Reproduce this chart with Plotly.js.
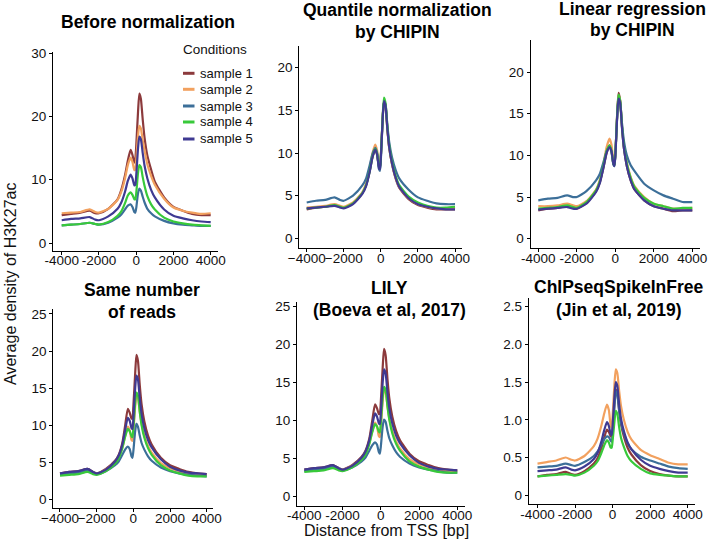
<!DOCTYPE html>
<html><head><meta charset="utf-8">
<script src="https://cdn.plot.ly/plotly-3.0.1.min.js"></script>
<style>html,body{margin:0;padding:0;background:#fff}#chart{width:712px;height:550px}</style>
</head><body><div id="chart"></div>
<script>
// ---- data ----
const positions = [-4000,-3500,-3000,-2500,-2200,-2000,-1500,-1000,-800,-600,-450,-300,-200,-100,-50,0,100,170,250,350,450,600,800,1000,1500,2000,2500,3000,3500,4000];
const sampleNames = ["sample 1","sample 2","sample 3","sample 4","sample 5"];
const sampleColors = ["#8c3a3c","#f2a15f","#3c6f99","#38c93a","#3f3a92"];
const panelTitles = [["Before normalization"],["Quantile normalization","by CHIPIN"],["Linear regression","by CHIPIN"],["Same number","of reads"],["LILY","(Boeva et al, 2017)"],["ChIPseqSpikeInFree","(Jin et al, 2019)"]];
const xTickVals = [-4000,-2000,0,2000,4000];
const xTickHyphen = ["-4000","-2000","0","2000","4000"];
const xTickMinus = ["\u22124000","\u22122000","0","2000","4000"];
const yTicksBefore = [0,10,20,30];
const yTicksChipin = [0,5,10,15,20];
const yTicksReads = [0,5,10,15,20,25];
const yTicksSpike = [0,0.5,1,1.5,2,2.5];
const yTicksSpikeText = ["0","0.5","1.0","1.5","2.0","2.5"];
const xAxisTitle = "Distance from TSS [bp]";
const yAxisTitle = "Average density of H3K27ac";
const legendTitle = "Conditions";

// Before normalization
const before_s1 = [4.4,4.6,4.8,5.1,4.7,4.7,5.4,6.9,8.4,10.7,13.0,14.7,13.9,12.7,13.2,15.2,20.8,23.6,22.8,19.5,16.6,13.8,11.6,9.7,7.2,5.7,5.1,4.6,4.4,4.4];
const before_s2 = [4.7,4.8,4.9,5.3,4.9,4.8,5.4,6.8,8.1,10.2,12.3,13.5,12.8,11.5,11.6,13.0,17.0,18.5,18.1,16.2,14.6,12.4,10.6,9.2,7.0,5.6,5.1,4.8,4.6,4.7];
const before_s3 = [2.8,2.9,3.0,3.2,3.0,2.9,3.2,4.0,4.5,5.3,5.9,6.1,5.7,4.9,4.8,5.5,7.9,8.6,8.3,7.3,6.4,5.4,4.7,4.2,3.5,3.1,2.9,2.8,2.7,2.7];
const before_s4 = [2.8,2.9,3.0,3.2,3.0,2.9,3.3,4.3,5.0,6.3,7.5,8.0,7.6,6.9,6.9,7.8,11.1,12.3,12.0,10.4,9.0,7.4,6.1,5.3,4.0,3.4,3.1,2.9,2.8,2.7];
const before_s5 = [3.6,3.8,3.9,4.1,3.7,3.6,4.2,5.4,6.4,8.1,9.8,10.8,10.2,9.1,9.2,10.6,15.0,16.8,16.4,14.2,12.2,10.2,8.4,7.2,5.3,4.3,3.9,3.6,3.4,3.3];
// Quantile normalization by CHIPIN
const quantile_s1 = [3.4,3.6,3.7,3.9,3.7,3.6,4.1,5.3,6.2,7.9,9.5,10.5,9.8,8.4,8.4,9.6,14.2,16.1,15.6,12.8,10.6,8.7,7.0,5.9,4.6,3.9,3.6,3.4,3.4,3.4];
const quantile_s2 = [3.6,3.7,3.8,4.0,3.8,3.7,4.2,5.4,6.4,8.2,10.0,11.0,10.3,8.6,8.5,9.7,14.2,16.1,15.6,12.9,10.7,8.8,7.1,6.0,4.7,4.0,3.7,3.5,3.5,3.6];
const quantile_s3 = [4.2,4.4,4.5,4.8,4.5,4.4,5.0,6.2,7.0,8.6,9.9,10.6,10.0,8.1,7.9,9.2,14.0,16.0,15.7,13.3,11.3,9.5,8.0,7.0,5.7,4.8,4.4,4.1,4.0,4.0];
const quantile_s4 = [3.5,3.6,3.7,3.9,3.7,3.6,4.1,5.3,6.2,7.9,9.6,10.5,9.9,8.4,8.3,9.6,14.4,16.5,15.9,13.1,10.9,9.0,7.3,6.2,4.9,4.2,3.8,3.6,3.6,3.7];
const quantile_s5 = [3.5,3.6,3.7,3.8,3.6,3.5,4.0,5.2,6.1,7.8,9.5,10.4,9.8,8.2,8.1,9.4,14.1,16.1,15.6,12.9,10.7,8.8,7.1,6.0,4.7,4.0,3.7,3.5,3.4,3.4];
// Linear regression by CHIPIN
const linear_s1 = [3.4,3.6,3.7,3.9,3.7,3.6,4.3,5.7,6.8,8.7,10.3,11.2,10.6,9.0,8.8,10.0,15.0,17.5,16.6,13.3,10.8,8.7,7.0,5.9,4.6,3.9,3.6,3.3,3.4,3.4];
const linear_s2 = [3.9,3.9,4.0,4.2,4.0,3.9,4.5,5.9,7.1,9.2,11.0,12.0,11.3,9.3,8.9,10.1,14.9,17.2,16.6,13.5,11.1,9.1,7.4,6.3,5.0,4.2,3.9,3.6,3.6,3.7];
const linear_s3 = [4.6,4.8,4.9,5.2,5.0,5.0,5.7,7.0,7.8,9.3,10.5,11.1,10.4,8.9,8.7,10.0,14.8,17.0,16.5,13.8,11.7,10.0,8.8,8.1,6.6,5.8,5.2,4.8,4.4,4.4];
const linear_s4 = [3.6,3.7,3.8,4.0,3.8,3.7,4.4,5.8,6.9,8.9,10.5,11.2,10.6,9.0,8.8,10.0,15.0,17.3,16.6,13.4,11.0,9.0,7.3,6.2,4.9,4.2,3.9,3.6,3.7,3.7];
const linear_s5 = [3.5,3.6,3.7,3.8,3.6,3.6,4.2,5.6,6.7,8.7,10.3,11.0,10.5,9.0,8.7,9.8,14.7,16.8,16.3,13.2,10.8,8.7,7.0,5.9,4.6,3.9,3.6,3.4,3.4,3.4];
// Same number of reads
const reads_s1 = [3.5,3.7,3.8,4.1,3.7,3.5,4.1,5.2,6.0,7.6,9.9,12.2,11.7,10.9,10.9,12.5,17.0,19.5,18.7,15.4,12.8,10.5,8.6,7.4,5.6,4.6,4.1,3.7,3.5,3.4];
const reads_s2 = [3.5,3.6,3.7,4.0,3.6,3.5,4.0,5.0,5.7,7.0,8.5,9.8,9.3,8.0,7.9,9.0,12.5,14.0,13.7,11.8,10.2,8.6,7.2,6.3,4.9,4.2,3.8,3.5,3.3,3.3];
const reads_s3 = [3.4,3.5,3.6,3.9,3.5,3.4,3.8,4.6,5.1,6.0,6.7,7.1,6.8,5.8,5.6,6.5,9.2,10.2,9.8,8.6,7.6,6.7,5.8,5.2,4.3,3.8,3.5,3.3,3.2,3.1];
const reads_s4 = [3.2,3.3,3.4,3.7,3.4,3.3,3.8,4.8,5.5,6.9,8.4,9.5,9.2,8.5,8.4,9.6,13.0,14.4,14.0,11.8,10.0,8.3,6.9,6.0,4.6,3.9,3.5,3.2,3.1,3.1];
const reads_s5 = [3.5,3.7,3.8,4.1,3.7,3.5,4.0,5.1,5.9,7.4,9.3,11.0,10.6,9.6,9.5,10.9,15.0,16.7,16.2,13.6,11.5,9.6,8.0,7.0,5.4,4.4,3.9,3.6,3.5,3.4];
// LILY
const lily_s1 = [3.5,3.7,3.8,4.1,3.7,3.5,4.1,5.2,6.0,7.6,9.9,12.1,11.6,10.8,10.9,12.4,17.0,19.4,18.6,15.4,12.8,10.5,8.6,7.4,5.6,4.6,4.1,3.7,3.5,3.4];
const lily_s2 = [3.4,3.6,3.7,4.0,3.6,3.5,4.0,5.0,5.7,7.0,8.5,9.7,9.2,7.9,7.8,9.0,12.5,14.0,13.7,11.8,10.2,8.6,7.2,6.3,4.9,4.2,3.8,3.5,3.3,3.3];
const lily_s3 = [3.3,3.5,3.6,3.9,3.5,3.4,3.8,4.6,5.1,6.0,6.7,7.1,6.8,5.8,5.6,6.5,9.2,10.1,9.8,8.6,7.6,6.7,5.8,5.2,4.3,3.8,3.5,3.3,3.1,3.1];
const lily_s4 = [3.2,3.3,3.4,3.7,3.4,3.3,3.8,4.8,5.5,6.9,8.4,9.5,9.2,8.5,8.4,9.6,13.0,14.4,14.0,11.8,10.0,8.3,6.9,6.0,4.6,3.9,3.5,3.2,3.1,3.1];
const lily_s5 = [3.5,3.7,3.8,4.1,3.7,3.5,4.0,5.1,5.9,7.4,9.3,10.9,10.5,9.6,9.5,10.9,15.0,16.7,16.2,13.6,11.5,9.6,8.0,7.0,5.4,4.4,3.9,3.6,3.5,3.4];
// ChIPseqSpikeInFree
const spike_s1 = [0.25,0.27,0.28,0.31,0.28,0.27,0.32,0.42,0.49,0.62,0.76,0.87,0.84,0.78,0.78,0.88,1.22,1.40,1.35,1.12,0.94,0.78,0.63,0.54,0.40,0.32,0.28,0.26,0.25,0.25];
const spike_s2 = [0.42,0.44,0.46,0.50,0.47,0.46,0.52,0.65,0.75,0.92,1.08,1.20,1.13,0.92,0.90,1.05,1.48,1.67,1.62,1.38,1.18,1.00,0.84,0.74,0.60,0.53,0.48,0.43,0.41,0.41];
const spike_s3 = [0.37,0.38,0.39,0.42,0.40,0.39,0.44,0.52,0.58,0.67,0.74,0.78,0.77,0.72,0.71,0.80,1.18,1.38,1.33,1.12,0.96,0.82,0.69,0.61,0.51,0.46,0.42,0.38,0.36,0.35];
const spike_s4 = [0.25,0.26,0.27,0.28,0.27,0.26,0.30,0.39,0.45,0.56,0.66,0.73,0.70,0.63,0.63,0.72,0.98,1.12,1.08,0.90,0.76,0.64,0.52,0.45,0.35,0.29,0.27,0.26,0.25,0.25];
const spike_s5 = [0.32,0.33,0.34,0.37,0.34,0.33,0.38,0.48,0.56,0.71,0.86,0.97,0.92,0.81,0.80,0.92,1.32,1.50,1.45,1.20,1.01,0.85,0.70,0.61,0.47,0.39,0.35,0.32,0.30,0.30];

// ---- layout ----
const W = 712, H = 550;
const FONT = "Liberation Sans, Arial, Helvetica, sans-serif";
const panelSeries = [
  [before_s1,before_s2,before_s3,before_s4,before_s5],
  [quantile_s1,quantile_s2,quantile_s3,quantile_s4,quantile_s5],
  [linear_s1,linear_s2,linear_s3,linear_s4,linear_s5],
  [reads_s1,reads_s2,reads_s3,reads_s4,reads_s5],
  [lily_s1,lily_s2,lily_s3,lily_s4,lily_s5],
  [spike_s1,spike_s2,spike_s3,spike_s4,spike_s5]
];
const boxes = [
  {x0:53,   x1:218,   top:52,    bot:251,   xr:[-4467,4392], yr:[-1.26,30.16], yt:yTicksBefore, ytt:null, xtt:xTickHyphen, tl:[22], tx:148},
  {x0:299.3,x1:461.7, top:45.7,  bot:248.3, xr:[-4399,4361], yr:[-1.17,22.58], yt:yTicksChipin, ytt:null, xtt:xTickMinus, tl:[10,32], tx:397.5},
  {x0:530.5,x1:700,   top:40,    bot:248.3, xr:[-4405,4400], yr:[-1.15,23.84], yt:yTicksChipin, ytt:null, xtt:xTickHyphen, tl:[8.5,30.5], tx:632.5},
  {x0:53.3, x1:213.3, top:309.3, bot:508.3, xr:[-4365,4360], yr:[-1.21,25.63], yt:yTicksReads, ytt:null, xtt:xTickMinus, tl:[289.5,312], tx:142},
  {x0:297,  x1:465,   top:301.7, bot:505.7, xr:[-4382,4403], yr:[-1.24,25.6], yt:yTicksReads, ytt:null, xtt:xTickHyphen, tl:[288,309.5], tx:389.5},
  {x0:528.8,x1:695,   top:298.3, bot:504.3, xr:[-4464,4389], yr:[-0.12,2.61], yt:yTicksSpike, ytt:yTicksSpikeText, xtt:xTickHyphen, tl:[287,309.5], tx:618.5}
];

const traces = [];
const layout = {
  width: W, height: H,
  margin: {l:0,r:0,t:0,b:0,pad:0},
  paper_bgcolor: "#fff", plot_bgcolor: "#fff",
  showlegend: false,
  font: {family: FONT, color: "#111"},
  annotations: [], shapes: []
};
const axisBase = {
  showline: true, linecolor: "#000", linewidth: 1,
  ticks: "outside", ticklen: 3, tickwidth: 1, tickcolor: "#000",
  showgrid: false, zeroline: false, fixedrange: true, tickangle: 0,
  tickfont: {family: FONT, size: 13.5, color: "#111"}
};
boxes.forEach((b, i) => {
  const n = i + 1;
  const xa = "xaxis" + (n === 1 ? "" : n), ya = "yaxis" + (n === 1 ? "" : n);
  const xr = "x" + (n === 1 ? "" : n), yr = "y" + (n === 1 ? "" : n);
  layout[xa] = Object.assign({}, axisBase, {
    domain: [b.x0 / W, b.x1 / W], range: b.xr, anchor: yr,
    tickmode: "array", tickvals: xTickVals, ticktext: b.xtt,
    ticklabelstandoff: -6
  });
  layout[ya] = Object.assign({}, axisBase, {
    domain: [1 - b.bot / H, 1 - b.top / H], range: b.yr, anchor: xr,
    tickmode: "array", tickvals: b.yt, ticktext: b.ytt ? b.ytt : b.yt.map(String)
  });
  panelSeries[i].forEach((ys, s) => {
    traces.push({
      type: "scatter", mode: "lines", x: positions, y: ys,
      xaxis: xr, yaxis: yr, name: sampleNames[s],
      line: {color: sampleColors[s], width: 2.2, shape: "spline", smoothing: 0.6},
      hoverinfo: "skip"
    });
  });
  panelTitles[i].forEach((t, k) => {
    layout.annotations.push({
      xref: "paper", yref: "paper", x: b.tx / W, y: 1 - b.tl[k] / H,
      xanchor: "center", yanchor: "middle", showarrow: false, text: t,
      font: {family: FONT, size: 17.5, weight: 700, color: "#000"}
    });
  });
});

// axis titles
layout.annotations.push({
  xref: "paper", yref: "paper", x: 10 / W, y: 1 - 284 / H, textangle: -90,
  xanchor: "center", yanchor: "middle", showarrow: false, text: yAxisTitle,
  font: {family: FONT, size: 16, color: "#111"}
});
layout.annotations.push({
  xref: "paper", yref: "paper", x: 386.5 / W, y: 1 - 530 / H,
  xanchor: "center", yanchor: "middle", showarrow: false, text: xAxisTitle,
  font: {family: FONT, size: 16, color: "#111"}
});

// legend (drawn in panel 1 area)
layout.annotations.push({
  xref: "paper", yref: "paper", x: 181 / W, y: 1 - 49.5 / H,
  xanchor: "left", yanchor: "middle", showarrow: false, text: legendTitle,
  font: {family: FONT, size: 13.5, color: "#111"}
});
const legendY = [73.3, 89.3, 106, 122, 139];
sampleNames.forEach((nm, s) => {
  layout.shapes.push({
    type: "line", xref: "paper", yref: "paper",
    x0: 183 / W, x1: 194.5 / W, y0: 1 - legendY[s] / H, y1: 1 - legendY[s] / H,
    line: {color: sampleColors[s], width: 3}
  });
  layout.annotations.push({
    xref: "paper", yref: "paper", x: 197.5 / W, y: 1 - legendY[s] / H,
    xanchor: "left", yanchor: "middle", showarrow: false, text: nm,
    font: {family: FONT, size: 13, color: "#111"}
  });
});

Plotly.newPlot("chart", traces, layout, {staticPlot: true, displayModeBar: false});
</script>
</body></html>
